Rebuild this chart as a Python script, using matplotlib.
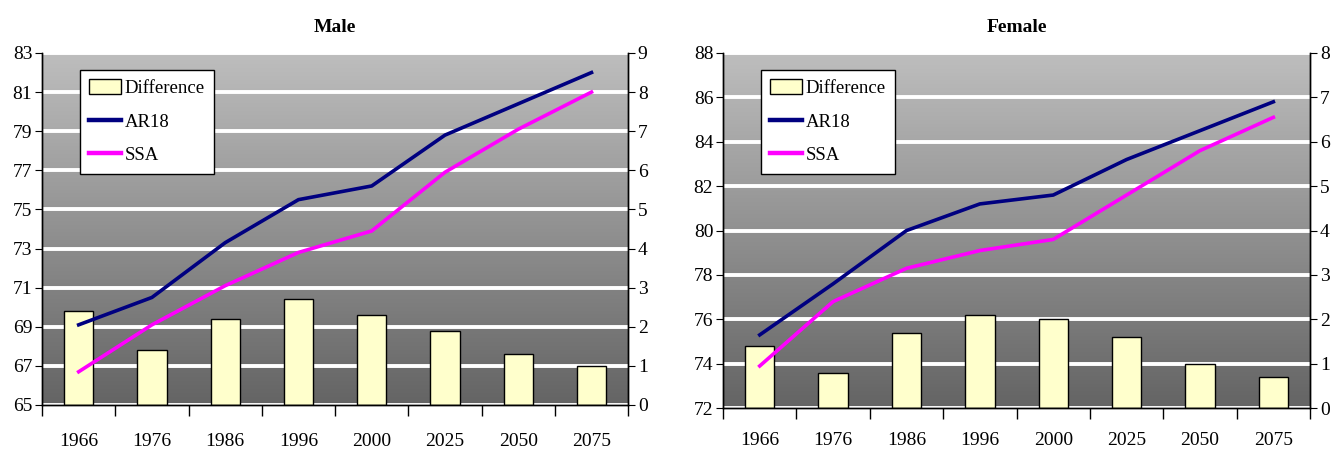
import numpy as np
import matplotlib
matplotlib.use("Agg")
import matplotlib.pyplot as plt
from matplotlib.colors import LinearSegmentedColormap

plt.rcParams['font.family'] = ['Liberation Serif', 'DejaVu Serif']

years = ['1966', '1976', '1986', '1996', '2000', '2025', '2050', '2075']

# Male life expectancy
male_ar18 = [69.1, 70.5, 73.3, 75.5, 76.2, 78.8, 80.4, 82.0]
male_ssa = [66.7, 69.1, 71.1, 72.8, 73.9, 76.9, 79.1, 81.0]
male_diff = [2.4, 1.4, 2.2, 2.7, 2.3, 1.9, 1.3, 1.0]

# Female life expectancy
female_ar18 = [75.3, 77.6, 80.0, 81.2, 81.6, 83.2, 84.5, 85.8]
female_ssa = [73.9, 76.8, 78.3, 79.1, 79.6, 81.6, 83.6, 85.1]
female_diff = [1.4, 0.8, 1.7, 2.1, 2.0, 1.6, 1.0, 0.7]

bg = LinearSegmentedColormap.from_list('bg', ['#646464', '#bebebe'])


def panel(rect, title, ar18, ssa, diff, left_lim, right_lim, xpad):
    ax = fig.add_axes(rect)          # lines, left scale
    ax2 = ax.twinx()                 # bars, right scale
    ax.set_zorder(ax2.get_zorder() + 1)
    ax.patch.set_visible(False)

    x = np.arange(len(years))
    grad = np.linspace(0, 1, 256).reshape(-1, 1)
    ax2.imshow(grad, cmap=bg, origin='lower', aspect='auto',
               extent=[0, 1, 0, 1], transform=ax2.transAxes, zorder=0)

    ax2.set_ylim(*right_lim)
    ax2.set_yticks(range(right_lim[0], right_lim[1] + 1))
    ax2.set_axisbelow(True)
    ax2.yaxis.grid(True, color='white', lw=2.8)
    bars = ax2.bar(x, diff, width=0.4, color='#ffffcc', edgecolor='black',
                   lw=1.0, zorder=2, label='Difference')

    l1, = ax.plot(x, ar18, color='#000080', lw=2.6, label='AR18')
    l2, = ax.plot(x, ssa, color='#ff00ff', lw=2.6, label='SSA')
    ax.set_ylim(*left_lim)
    ax.set_yticks(range(left_lim[0], left_lim[1] + 1, 2))
    ax.set_xlim(-0.5, len(years) - 0.5)

    ax.set_xticks(x)
    ax.set_xticklabels(years)
    ax.set_xticks(np.arange(-0.5, len(years)), minor=True)
    ax.tick_params(axis='x', which='major', length=0, pad=xpad, labelsize=14)
    ax.tick_params(axis='x', which='minor', length=8, width=1)
    ax.tick_params(axis='y', length=5, labelsize=14, pad=2)
    ax2.tick_params(axis='y', length=5, labelsize=14, pad=2)

    for a in (ax, ax2):
        a.spines['top'].set_visible(False)
        for s in ('left', 'right', 'bottom'):
            a.spines[s].set_linewidth(1.0)

    ax.set_title(title, fontweight='bold', fontsize=14, pad=15)
    leg = ax.legend([bars, l1, l2], ['Difference', 'AR18', 'SSA'],
                    loc='upper left', bbox_to_anchor=(0.064, 0.952),
                    borderaxespad=0, fontsize=13.5, frameon=True,
                    fancybox=False, edgecolor='black', framealpha=1,
                    borderpad=0.5, handlelength=1.7, handleheight=0.8,
                    handletextpad=0.2, labelspacing=0.85)
    leg.get_frame().set_linewidth(1.0)
    for h in leg.get_lines():
        h.set_linewidth(3.2)
    return ax, ax2


fig = plt.figure(figsize=(13.35, 4.49), dpi=100)
fig.patch.set_facecolor('white')

panel([0.0315, 0.098, 0.439, 0.784], 'Male',
      male_ar18, male_ssa, male_diff, (65, 83), (0, 9), 20)
panel([0.5416, 0.091, 0.4397, 0.791], 'Female',
      female_ar18, female_ssa, female_diff, (72, 88), (0, 8), 17)

fig.savefig('out.png', dpi=100)
